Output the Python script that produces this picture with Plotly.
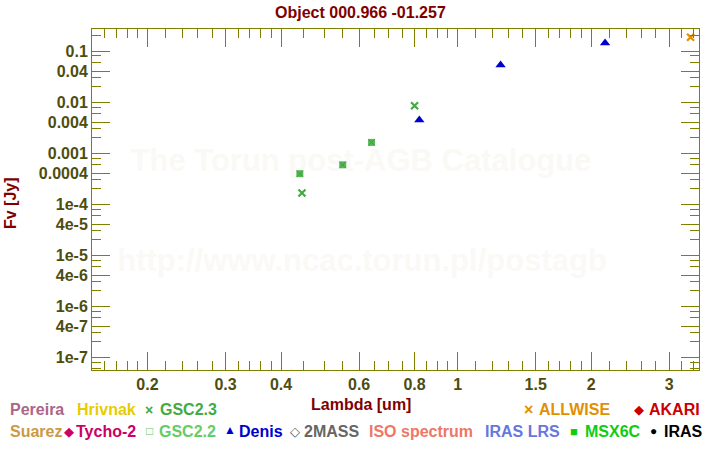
import plotly.graph_objects as go

# ---- data ----
gsc23_wl = [0.446, 0.80]
gsc23_fl = [1.66e-4, 8.45e-3]
gsc22_wl = [0.441, 0.551, 0.640]
gsc22_fl = [3.95e-4, 5.9e-4, 1.62e-3]
denis_wl = [0.82, 1.25, 2.15]
denis_fl = [4.45e-3, 0.053, 0.144]
allwise_wl = [3.35]
allwise_fl = [0.186]

xtick_vals = [0.2, 0.3, 0.4, 0.6, 0.8, 1, 1.5, 2, 3]
xtick_text = ["0.2", "0.3", "0.4", "0.6", "0.8", "1", "1.5", "2", "3"]
xminor_vals = [0.15, 0.16, 0.17, 0.18, 0.19, 0.22, 0.24, 0.26, 0.28, 0.32, 0.34, 0.36, 0.38,
               0.45, 0.5, 0.55, 0.65, 0.7, 0.75, 0.85, 0.9, 0.95, 1.1, 1.2, 1.3, 1.4,
               1.6, 1.7, 1.8, 1.9, 2.2, 2.4, 2.6, 2.8, 3.2, 3.4]
ytick_vals = [1e-7, 4e-7, 1e-6, 4e-6, 1e-5, 4e-5, 1e-4, 4e-4, 1e-3, 4e-3, 1e-2, 4e-2, 1e-1]
ytick_text = ["1e-7", "4e-7", "1e-6", "4e-6", "1e-5", "4e-5", "1e-4", "0.0004", "0.001",
              "0.004", "0.01", "0.04", "0.1"]
yminor_vals = []
for e in range(-8, 0):
    for m in [2, 3, 6, 8]:
        yminor_vals.append(m * 10 ** e)

watermark_lines = ["The Torun post-AGB Catalogue", "http://www.ncac.torun.pl/postagb"]

OLIVE = "#808000"
TICKFONT = "#4d4d10"
DARKRED = "#800000"
FONT = "Liberation Sans, Arial, sans-serif"

XR = [-0.8239, 0.5441]
YR = [-7.25, -0.568]

L, R, T, B = 92, 21, 29, 80
W, H = 720, 450
PW, PH = W - L - R, H - T - B


def px(x):
    return (x - L) / PW


def py(y):
    return (H - B - y) / PH


fig = go.Figure()
# faint watermark, drawn beneath the data
wm_x = [10 ** (XR[0] + px(361) * (XR[1] - XR[0])), 10 ** (XR[0] + px(362) * (XR[1] - XR[0]))]
wm_y = [10 ** (YR[0] + py(163) * (YR[1] - YR[0])), 10 ** (YR[0] + py(263) * (YR[1] - YR[0]))]
fig.add_trace(go.Scatter(x=wm_x, y=wm_y, mode="text", text=watermark_lines,
                         textposition="middle center", hoverinfo="skip",
                         textfont=dict(size=31, color="#fbf9f5", family=FONT, weight="bold")))

fig.add_trace(go.Scatter(x=gsc22_wl, y=gsc22_fl, mode="markers",
                         marker=dict(symbol="square", size=7, color="#55b855",
                                     line=dict(width=0))))
fig.add_trace(go.Scatter(x=gsc22_wl, y=gsc22_fl, mode="markers",
                         marker=dict(symbol="x-thin", size=6, color="#3e9e3e",
                                     line=dict(width=1, color="#3e9e3e"))))
fig.add_trace(go.Scatter(x=gsc23_wl, y=gsc23_fl, mode="markers",
                         marker=dict(symbol="x-thin", size=7,
                                     line=dict(width=2.2, color="#44aa44"))))
fig.add_trace(go.Scatter(x=denis_wl, y=denis_fl, mode="markers",
                         marker=dict(symbol="triangle-up", size=9, color="#0000cc",
                                     line=dict(width=0))))
fig.add_trace(go.Scatter(x=allwise_wl, y=allwise_fl, mode="markers",
                         marker=dict(symbol="x-thin", size=7,
                                     line=dict(width=2.2, color="#e09000"))))

ann = []
# title & axis titles
ann.append(dict(text="<b>Object 000.966 -01.257</b>", x=px(360), y=py(12), xref="paper",
                yref="paper", showarrow=False, font=dict(size=16, color=DARKRED, family=FONT),
                xanchor="center", yanchor="middle"))
ann.append(dict(text="<b>Lambda [um]</b>", x=px(361), y=py(405), xref="paper",
                yref="paper", showarrow=False, font=dict(size=16, color=DARKRED, family=FONT),
                xanchor="center", yanchor="middle"))
ann.append(dict(text="<b>Fv [Jy]</b>", x=px(10), y=py(203), xref="paper", textangle=-90,
                yref="paper", showarrow=False, font=dict(size=16, color=DARKRED, family=FONT),
                xanchor="center", yanchor="middle"))

# legend entries: (text, x_left, y_center, color, size)
legend_items = [
    ("<b>Pereira</b>", 10, 410, "#aa6688", 16),
    ("<b>Hrivnak</b>", 77, 410, "#e6cc00", 16),
    ("<b>×</b>", 145, 410, "#44aa44", 14),
    ("<b>GSC2.3</b>", 160, 410, "#44aa44", 16),
    ("<b>×</b>", 524, 410, "#e09000", 16),
    ("<b>ALLWISE</b>", 539, 410, "#e09000", 16),
    ("◆", 634, 410, "#cc0000", 13),
    ("<b>AKARI</b>", 649, 410, "#cc0000", 16),
    ("<b>Suarez</b>", 10, 431, "#cc9944", 16),
    ("◆", 64, 431, "#cc0066", 13),
    ("<b>Tycho-2</b>", 76, 431, "#cc0066", 16),
    ("□", 146, 431, "#66cc66", 12),
    ("<b>GSC2.2</b>", 159, 431, "#66cc66", 16),
    ("▲", 224, 430, "#0000cc", 12),
    ("<b>Denis</b>", 239, 431, "#0000cc", 16),
    ("◇", 290, 431, "#555555", 13),
    ("<b>2MASS</b>", 304, 431, "#666666", 16),
    ("<b>ISO spectrum</b>", 369, 431, "#ee7766", 16),
    ("<b>IRAS LRS</b>", 485, 431, "#6677dd", 16),
    ("■", 570, 431, "#11cc11", 13),
    ("<b>MSX6C</b>", 585, 431, "#11cc11", 16),
    ("●", 650, 431, "#000000", 12),
    ("<b>IRAS</b>", 664, 431, "#000000", 16),
]
for t, x0, y0, c, s in legend_items:
    ann.append(dict(text=t, x=px(x0), y=py(y0), xref="paper", yref="paper",
                    showarrow=False, font=dict(size=s, color=c, family=FONT),
                    xanchor="left", yanchor="middle", xshift=-2))

axis_common = dict(
    type="log", showgrid=False, zeroline=False, showline=True, linecolor=OLIVE,
    linewidth=1, mirror="ticks", ticks="inside", ticklen=18, tickwidth=1,
    tickcolor=OLIVE, tickfont=dict(size=16, color=TICKFONT, family=FONT),
)

fig.update_layout(
    width=W, height=H, margin=dict(l=L, r=R, t=T, b=B),
    paper_bgcolor="white", plot_bgcolor="white", showlegend=False,
    font=dict(family=FONT),
    xaxis=dict(**axis_common, range=XR, tickmode="array",
               tickvals=xtick_vals, ticktext=[f"<b>{t}</b>" for t in xtick_text],
               minor=dict(tickmode="array", tickvals=xminor_vals, ticks="inside",
                          ticklen=9, tickwidth=1, tickcolor=OLIVE)),
    yaxis=dict(**axis_common, range=YR, tickmode="array",
               tickvals=ytick_vals, ticktext=[f"<b>{t}</b>" for t in ytick_text],
               minor=dict(tickmode="array", tickvals=yminor_vals, ticks="inside",
                          ticklen=9, tickwidth=1, tickcolor=OLIVE)),
    annotations=ann,
)
fig.write_html("out.html")
